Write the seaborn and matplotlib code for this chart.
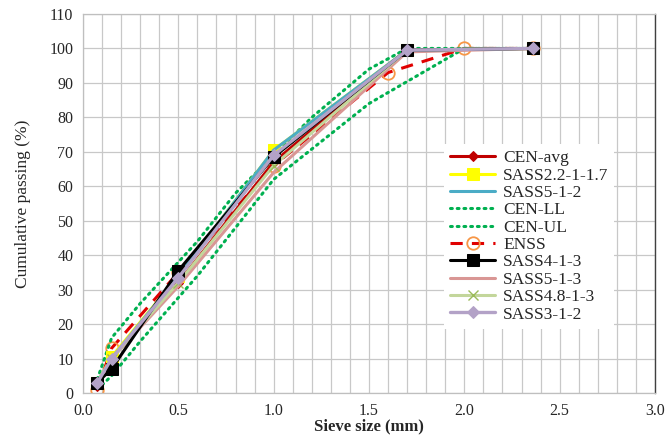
import matplotlib
matplotlib.use("Agg")
import matplotlib.pyplot as plt
import seaborn as sns
import pandas as pd
import numpy as np
from matplotlib.ticker import MultipleLocator, FormatStrFormatter

sns.set_style("white")
plt.rcParams['font.family'] = ['Liberation Serif', 'DejaVu Serif']

sieve = [0.075, 0.15, 0.5, 1.0, 1.7, 2.36]
cen_avg = [2.0, 10.0, 32.0, 67.0, 99.5, 100.0]
sass22 = [3.0, 10.5, 34.0, 70.5, 99.5, 100.0]
sass512 = [3.0, 10.0, 34.0, 70.5, 99.5, 100.0]
ll_x = [0.075, 0.15, 0.3, 0.6, 1.0, 1.5, 2.0, 2.36]
ll_y = [1.0, 5.0, 15.0, 34.0, 62.0, 84.0, 100.0, 100.0]
ul_x = [0.075, 0.15, 0.3, 0.6, 0.8, 1.2, 1.5, 1.7, 2.36]
ul_y = [4.0, 16.0, 26.0, 44.0, 58.0, 80.0, 94.0, 100.0, 100.0]
enss_x = [0.075, 0.15, 0.5, 1.0, 1.6, 2.0, 2.36]
enss_y = [1.0, 13.0, 35.0, 66.0, 93.0, 100.0, 100.0]
sass413 = [3.0, 7.0, 35.5, 68.5, 99.5, 100.0]
sass513 = [2.5, 10.0, 31.0, 64.0, 99.0, 100.0]
sass4813 = [3.0, 10.0, 32.0, 66.0, 99.5, 100.0]
sass312 = [3.0, 10.0, 33.5, 69.0, 99.5, 100.0]

fig = plt.figure(figsize=(6.68, 4.37), dpi=100)
ax = fig.add_axes([0.1243, 0.1007, 0.8562, 0.8673])

def draw(x, y, label, **kw):
    df = pd.DataFrame({"x": x, "y": y})
    sns.lineplot(data=df, x="x", y="y", ax=ax, label=label, sort=False,
                 estimator=None, **kw)

draw(sieve, cen_avg, "CEN-avg", color="#C00000", lw=2.2, marker="D", ms=5,
     mec="#C00000", mfc="#C00000", zorder=3)
draw(sieve, sass22, "SASS2.2-1-1.7", color="#FFFF00", lw=2.2, marker="s", ms=8,
     mec="#FFFF00", mfc="#FFFF00", zorder=4)
draw(sieve, sass512, "SASS5-1-2", color="#4BACC6", lw=2.2, zorder=5)
draw(ll_x, ll_y, "CEN-LL", color="#00B050", lw=2.2, linestyle=(0, (0.6, 1.6)),
     dash_capstyle="round", zorder=2.5)
draw(ul_x, ul_y, "CEN-UL", color="#00B050", lw=2.2, linestyle=(0, (0.6, 1.6)),
     dash_capstyle="round", zorder=2.5)
draw(enss_x, enss_y, "ENSS", color="#E00000", lw=2.2, linestyle=(0, (4, 3)),
     marker="o", ms=9, mfc="none", mec="#F79646", mew=1.3, zorder=2)
draw(sieve, sass413, "SASS4-1-3", color="#000000", lw=2.2, marker="s", ms=8,
     mec="#000000", mfc="#000000", zorder=6)
draw(sieve, sass513, "SASS5-1-3", color="#D99694", lw=2.2, zorder=4)
draw(sieve, sass4813, "SASS4.8-1-3", color="#C3D69B", lw=2.2, marker="x", ms=7,
     mec="#9BBB59", mew=1.0, zorder=5)
draw(sieve, sass312, "SASS3-1-2", color="#B3A2C7", lw=2.4, marker="D", ms=6,
     mec="#B3A2C7", mfc="#B3A2C7", zorder=7)

ax.set_xlim(0, 3.0)
ax.set_ylim(0, 110)
ax.xaxis.set_major_locator(MultipleLocator(0.5))
ax.xaxis.set_minor_locator(MultipleLocator(0.1))
ax.yaxis.set_major_locator(MultipleLocator(10))
ax.xaxis.set_major_formatter(FormatStrFormatter("%.1f"))
ax.grid(True, which="both", axis="x", color="#C8C8C8", lw=0.9)
ax.grid(True, which="major", axis="y", color="#C8C8C8", lw=0.9)
ax.set_axisbelow(True)
ax.tick_params(axis="both", which="both", length=0, labelsize=11.5)
ax.tick_params(axis="x", pad=7)
ax.tick_params(axis="y", pad=7)
for s in ["left", "bottom", "top"]:
    ax.spines[s].set_color("#BFBFBF")
    ax.spines[s].set_linewidth(0.9)
ax.spines["right"].set_color("#404040")
ax.spines["right"].set_linewidth(1.0)

ax.set_xlabel("Sieve size (mm)", fontsize=12, fontweight="bold", labelpad=0)
ax.set_ylabel("Cumulative passing (%)", fontsize=12.5, labelpad=13)

leg = ax.legend(loc="upper left", bbox_to_anchor=(0.631, 0.657), frameon=True,
                fontsize=12.5, handlelength=2.6, labelspacing=0.07,
                handletextpad=0.45, borderpad=0.35, borderaxespad=0,
                framealpha=1.0)
leg.get_frame().set_edgecolor("white")
leg.get_frame().set_linewidth(0)
leg.get_frame().set_boxstyle("square", pad=0)

fig.savefig("out.png", dpi=100)
